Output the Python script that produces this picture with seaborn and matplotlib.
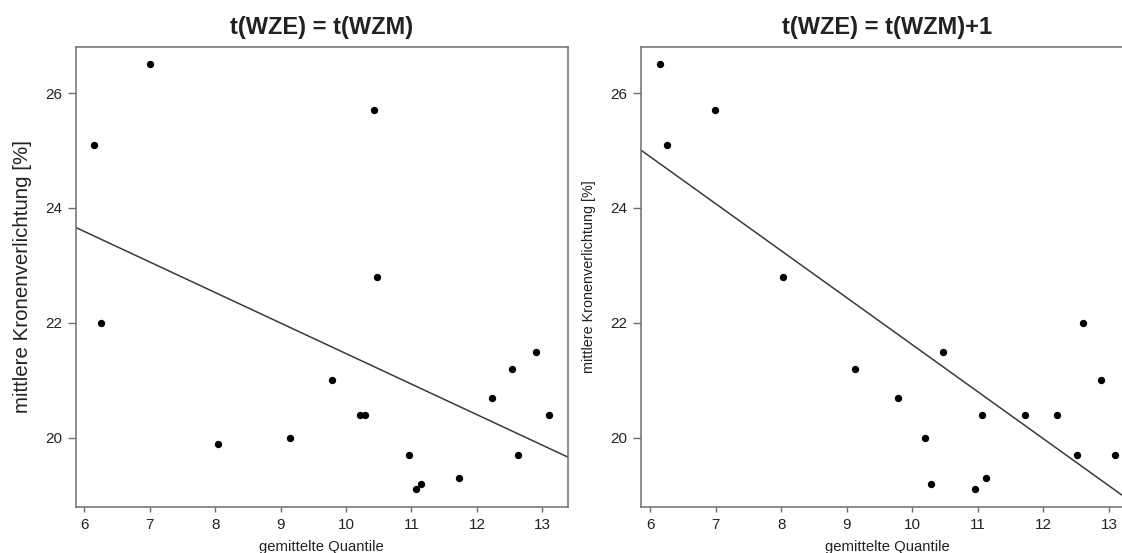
import numpy as np
import pandas as pd
import matplotlib
matplotlib.use("Agg")
import matplotlib.pyplot as plt
import seaborn as sns

# ---- data ----
quantile_left = [6.15, 6.26, 7.00, 8.04, 9.14, 9.79, 10.22, 10.29, 10.43, 10.47,
                 10.96, 11.07, 11.14, 11.73, 12.23, 12.54, 12.63, 12.90, 13.11]
crown_left = [25.1, 22.0, 26.5, 19.9, 20.0, 21.0, 20.4, 20.4, 25.7, 22.8,
              19.7, 19.1, 19.2, 19.3, 20.7, 21.2, 19.7, 21.5, 20.4]

quantile_right = [6.14, 6.25, 6.99, 8.03, 9.13, 9.78, 10.20, 10.28, 10.46,
                  10.95, 11.06, 11.13, 11.72, 12.21, 12.51, 12.61, 12.88, 13.09]
crown_right = [26.5, 25.1, 25.7, 22.8, 21.2, 20.7, 20.0, 19.2, 21.5,
               19.1, 20.4, 19.3, 20.4, 20.4, 19.7, 22.0, 21.0, 19.7]

titles = ["t(WZE) = t(WZM)", "t(WZE) = t(WZM)+1"]
x_label = "gemittelte Quantile"
y_label = "mittlere Kronenverlichtung [%]"
x_ticks = [6, 7, 8, 9, 10, 11, 12, 13]
y_ticks = [20, 22, 24, 26]

sns.set_style("white")
plt.rcParams["font.family"] = ["Liberation Sans", "DejaVu Sans"]

TXT = "#222222"
SPINE = "#6e6e6e"

fig = plt.figure(figsize=(11.22, 5.53), dpi=100)
W, H = 1122, 553
axL = fig.add_axes([76 / W, (H - 506.5) / H, 491.7 / W, 459.2 / H])
axR = fig.add_axes([641.3 / W, (H - 506.5) / H, 491.7 / W, 459.2 / H])


def r_lim(v):
    lo, hi = min(v), max(v)
    d = (hi - lo) * 0.04
    return lo - d, hi + d


panels = [
    (axL, quantile_left, crown_left, titles[0], 14.8, -0.090),
    (axR, quantile_right, crown_right, titles[1], 10.4, -0.093),
]

for ax, xs, ys, title, ylab_size, ylab_x in panels:
    df = pd.DataFrame({"q": xs, "k": ys})
    ax.set_xlim(*r_lim(xs))
    ax.set_ylim(*r_lim(ys))
    sns.scatterplot(data=df, x="q", y="k", color="black", s=28,
                    linewidth=0, ax=ax, zorder=3)
    sns.regplot(data=df, x="q", y="k", scatter=False, ci=None,
                truncate=False, color="#3a3a3a",
                line_kws=dict(lw=1.1), ax=ax)
    ax.set_xlim(*r_lim(xs))
    ax.set_ylim(*r_lim(ys))
    ax.set_xticks(x_ticks)
    ax.set_yticks(y_ticks)
    ax.tick_params(axis="both", which="major", direction="out", colors=SPINE,
                   labelcolor=TXT, labelsize=11, width=1.0,
                   bottom=True, left=True, top=False, right=False)
    ax.tick_params(axis="x", length=3.8, pad=4.3)
    ax.tick_params(axis="y", length=5.5, pad=4.3)
    for sp in ax.spines.values():
        sp.set_visible(True)
        sp.set_color(SPINE)
        sp.set_linewidth(1.1)
    ax.set_title(title, fontsize=17, fontweight="bold", color=TXT, pad=9.5)
    ax.set_xlabel(x_label, fontsize=10.7, color=TXT)
    ax.xaxis.set_label_coords(0.5, -0.073)
    ax.set_ylabel(y_label, fontsize=ylab_size, color=TXT)
    ax.yaxis.set_label_coords(ylab_x, 0.5)
    ax.grid(False)

fig.savefig("out.png", dpi=100, facecolor="white")
